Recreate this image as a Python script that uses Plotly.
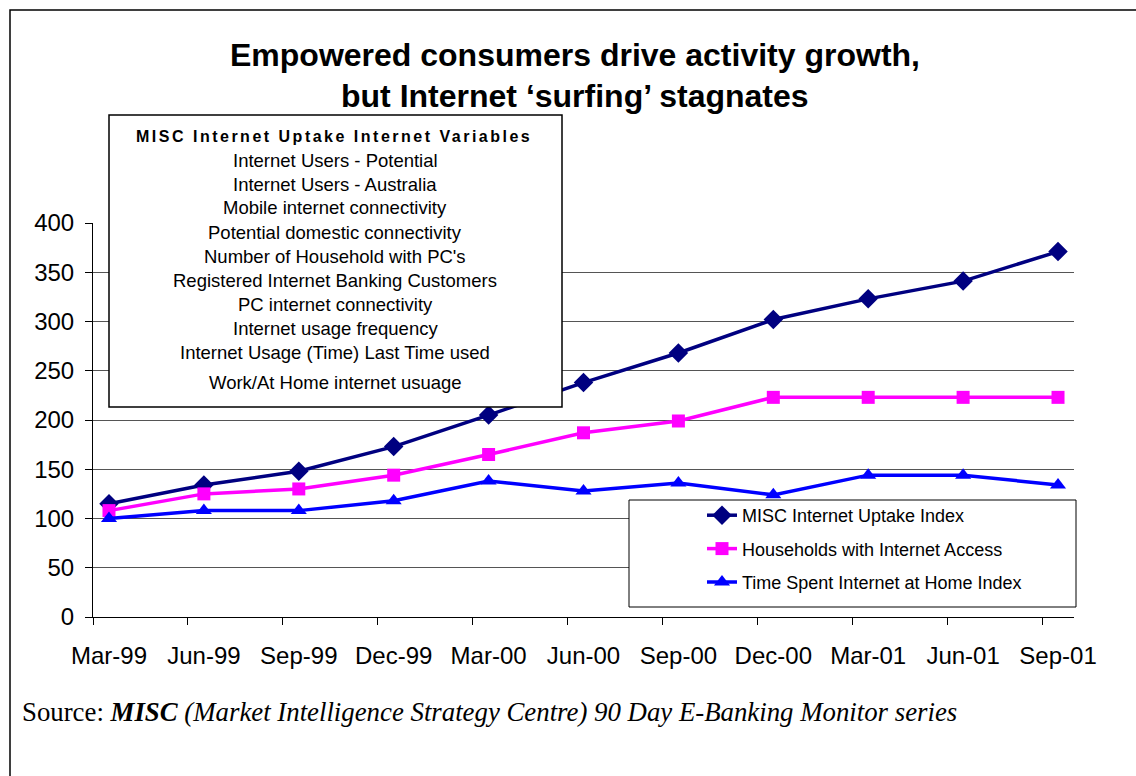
import plotly.graph_objects as go

categories = ["Mar-99", "Jun-99", "Sep-99", "Dec-99", "Mar-00", "Jun-00",
              "Sep-00", "Dec-00", "Mar-01", "Jun-01", "Sep-01"]
misc_index = [115, 134, 148, 173, 205, 238, 268, 302, 323, 341, 371]
households = [108, 125, 130, 144, 165, 187, 199, 223, 223, 223, 223]
time_spent = [100, 108, 108, 118, 138, 128, 136, 124, 144, 144, 134]

series_names = ["MISC Internet Uptake Index",
                "Households with Internet Access",
                "Time Spent Internet at Home Index"]
variables_title = "MISC Internet Uptake Internet Variables"
variables = ["Internet Users - Potential", "Internet Users - Australia",
             "Mobile internet connectivity", "Potential domestic connectivity",
             "Number of Household with PC's", "Registered Internet Banking Customers",
             "PC internet connectivity", "Internet usage frequency",
             "Internet Usage (Time) Last Time used", "Work/At Home internet usuage"]
y_ticks = [0, 50, 100, 150, 200, 250, 300, 350, 400]

W, H = 1136, 776
L, R, T, B = 93, 1074, 223, 617
SANS = "Arial, 'Liberation Sans', sans-serif"
SERIF = "'Times New Roman', 'Liberation Serif', serif"

def px_x(p):
    return (p - L) / (R - L)

def px_y(p):
    return (B - p) / (B - T)

x = list(range(len(categories)))
fig = go.Figure()
styles = [("#000080", "diamond", 15), ("#FF00FF", "square", 13), ("#0000FF", "triangle-up", 14)]
for i, (vals, name) in enumerate(zip([misc_index, households, time_spent], series_names)):
    c, sym, sz = styles[i]
    fig.add_trace(go.Scatter(
        x=x, y=vals, name=name, mode="lines+markers", legendgroup=f"g{i}",
        line=dict(color=c, width=3.5),
        marker=dict(symbol=sym, size=sz, color=c),
    ))

shapes = [
    dict(type="rect", xref="paper", yref="paper", x0=px_x(10), x1=px_x(1145),
         y0=px_y(790), y1=px_y(10), line=dict(color="black", width=1.5), layer="above"),
    dict(type="rect", xref="paper", yref="paper", x0=px_x(109), x1=px_x(562),
         y0=px_y(407), y1=px_y(115), line=dict(color="black", width=1.5),
         fillcolor="white", layer="above"),
    dict(type="rect", xref="paper", yref="paper", x0=px_x(629), x1=px_x(1076),
         y0=px_y(607), y1=px_y(500), line=dict(color="black", width=1),
         fillcolor="white", layer="above"),
]

annotations = [
    dict(text="<b>Empowered consumers drive activity growth,</b>", x=px_x(575), y=px_y(55),
         xref="paper", yref="paper", showarrow=False, xanchor="center", yanchor="middle",
         font=dict(family=SANS, size=32, color="black")),
    dict(text="<b>but Internet \u2018surfing\u2019 stagnates</b>", x=px_x(575), y=px_y(96),
         xref="paper", yref="paper", showarrow=False, xanchor="center", yanchor="middle",
         font=dict(family=SANS, size=32, color="black")),
    dict(text="<b><span style='letter-spacing:2.5px'>" + variables_title + "</span></b>",
         x=px_x(334), y=px_y(137), xref="paper", yref="paper", showarrow=False,
         xanchor="center", yanchor="middle", font=dict(family=SANS, size=16, color="black")),
    dict(text="Source: <b><i>MISC</i></b><i> (Market Intelligence Strategy Centre) 90 Day E-Banking Monitor series</i>",
         x=px_x(20), y=px_y(712), xref="paper", yref="paper", showarrow=False,
         xanchor="left", yanchor="middle", font=dict(family=SERIF, size=26.8, color="black")),
]
line_y = [160, 184, 208, 232, 256, 280, 304, 328, 352, 382]
for txt, py in zip(variables, line_y):
    annotations.append(dict(text=txt, x=px_x(335), y=px_y(py), xref="paper", yref="paper",
                            showarrow=False, xanchor="center", yanchor="middle",
                            font=dict(family=SANS, size=18.5, color="black")))

offset = 16 / 95.0
fig.update_layout(
    width=W, height=H,
    margin=dict(l=L, r=W - R, t=T, b=H - B),
    paper_bgcolor="white", plot_bgcolor="white",
    font=dict(family=SANS, color="black"),
    showlegend=True,
    legend=dict(x=px_x(702), y=px_y(497), xanchor="left", yanchor="top",
                bgcolor="rgba(0,0,0,0)", borderwidth=0,
                font=dict(family=SANS, size=18, color="black"),
                tracegroupgap=7, traceorder="grouped"),
    shapes=shapes, annotations=annotations,
    xaxis=dict(range=[-offset, 10 + (R - 1058) / 95.0], tickmode="array", tickvals=x,
               ticktext=categories, ticks="", showgrid=False, zeroline=False,
               showline=True, linecolor="black", linewidth=1,
               tickfont=dict(family=SANS, size=24, color="black"), ticklabelstandoff=17,
               minor=dict(tickmode="linear", tick0=-offset, dtick=1, ticks="outside",
                          ticklen=7, tickcolor="black", showgrid=False)),
    yaxis=dict(range=[0, 400], tickmode="array", tickvals=y_ticks, ticks="outside",
               ticklen=7, tickcolor="black", showline=True, linecolor="black", linewidth=1,
               showgrid=True, gridcolor="#555555", gridwidth=1, zeroline=False,
               tickfont=dict(family=SANS, size=24, color="black"), ticklabelstandoff=6),
)

fig.write_html("out.html", post_script="document.body.style.margin='0';",
               config={"displayModeBar": False})
